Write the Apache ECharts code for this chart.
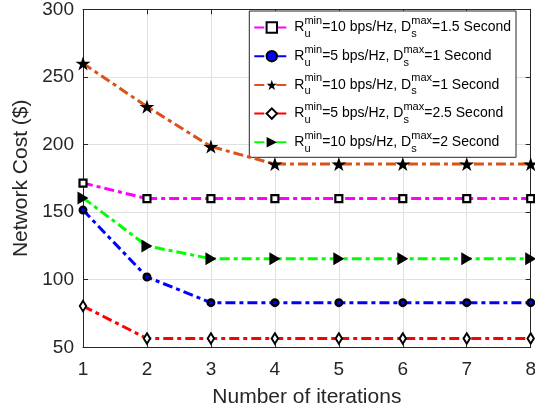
<!DOCTYPE html>
<html><head><meta charset="utf-8">
<script src="https://cdn.jsdelivr.net/npm/echarts@6/dist/echarts.min.js"></script>
<style>html,body{margin:0;padding:0;background:#fff}#c{width:535px;height:412px}</style>
</head><body><div id="c"></div>
<script>
const iterations = [1, 2, 3, 4, 5, 6, 7, 8];
const costMagenta = [171.5, 160, 160, 160, 160, 160, 160, 160];
const costBlue = [151.5, 102, 83, 83, 83, 83, 83, 83];
const costOrange = [260, 228, 198.5, 185.5, 185.5, 185.5, 185.5, 185.5];
const costRed = [80.5, 56.5, 56.5, 56.5, 56.5, 56.5, 56.5, 56.5];
const costGreen = [160.5, 125, 115.5, 115.5, 115.5, 115.5, 115.5, 115.5];
const rateValues = ['10', '5', '10', '5', '10'];
const delayValues = ['1.5', '1', '1', '2.5', '2'];
const xTicks = [1, 2, 3, 4, 5, 6, 7, 8];
const yTicks = [50, 100, 150, 200, 250, 300];

const FONT = "'Liberation Sans', Arial, Helvetica, sans-serif";
const TXT = '#262626';
const STAR = 'path://M50,2 L61.8,38 L99.5,38 L69,60 L80.5,96 L50,74 L19.5,96 L31,60 L0.5,38 L38.2,38 Z';
const TRI = 'path://M0,0 L100,50 L0,100 Z';

const names = rateValues.map((r, i) => 'R_u^min=' + r + ' bps/Hz, D_s^max=' + delayValues[i] + ' Second');
const seriesValues = [costMagenta, costBlue, costOrange, costRed, costGreen];
const lineColors = ['#FF00FF', '#0000FF', '#D95319', '#FF0000', '#00FF00'];
const symbols = ['rect', 'circle', STAR, 'diamond', TRI];
const symbolSizes = [7, 6.5, [15, 14], [6.5, 10.5], [11, 13]];
const fills = ['#ffffff', '#0000FF', '#000000', '#ffffff', '#000000'];
const borders = [2.2, 2.5, 0, 2, 0];

const series = seriesValues.map((vals, k) => ({
  name: names[k],
  type: 'line',
  data: iterations.map((x, i) => [x, vals[i]]),
  symbol: symbols[k],
  symbolSize: symbolSizes[k],
  showAllSymbol: true,
  lineStyle: { color: lineColors[k], width: 3, type: [10, 4, 4, 4] },
  itemStyle: { color: fills[k], borderColor: '#000', borderWidth: borders[k] },
  emphasis: { disabled: true },
  animation: false,
  z: 3 + k
}));

const chart = echarts.init(document.getElementById('c'), null, { renderer: 'canvas' });
chart.setOption({
  animation: false,
  backgroundColor: '#fff',
  grid: { left: 83, right: 4.3, top: 9.3, bottom: 64.7, containLabel: false, outerBoundsMode: 'none' },
  legend: {
    orient: 'vertical',
    left: 249.3, top: 11,
    data: names,
    backgroundColor: '#fff',
    borderColor: TXT, borderWidth: 1, borderRadius: 0,
    padding: [4.5, 5, 3, 4],
    itemWidth: 35, itemHeight: 13, itemGap: 4.7,
    textStyle: {
      fontFamily: FONT, fontSize: 14, color: '#000',
      rich: {
        m: { fontFamily: FONT, fontSize: 14, lineHeight: 24, color: '#000' },
        sp: { fontFamily: FONT, fontSize: 11, lineHeight: 13, verticalAlign: 'top', color: '#000' },
        sb: { fontFamily: FONT, fontSize: 11, lineHeight: 6, verticalAlign: 'bottom', width: 0, color: '#000' }
      }
    },
    formatter: function (name) {
      const i = names.indexOf(name);
      return '{m|R}{sb|u}{sp|min}{m|=' + rateValues[i] + ' bps/Hz, D}{sb|s}{sp|max}{m|=' + delayValues[i] + ' Second}';
    }
  },
  xAxis: [{
    type: 'value', min: xTicks[0], max: xTicks[xTicks.length - 1], interval: 1,
    name: 'Number of iterations', nameLocation: 'middle', nameGap: 39,
    nameTextStyle: { fontFamily: FONT, fontSize: 21, color: TXT },
    axisLine: { show: true, onZero: false, lineStyle: { color: TXT, width: 1 } },
    axisTick: { show: true, inside: true, length: 5, lineStyle: { color: TXT } },
    axisLabel: { fontFamily: FONT, fontSize: 19, color: TXT, margin: 13, showMinLabel: true, showMaxLabel: true },
    splitLine: { show: true, lineStyle: { color: '#e0e0e0', width: 1 } }
  }, {
    type: 'value', position: 'top', min: xTicks[0], max: xTicks[xTicks.length - 1], interval: 1,
    axisLine: { show: true, onZero: false, lineStyle: { color: TXT, width: 1 } },
    axisTick: { show: true, inside: true, length: 5, lineStyle: { color: TXT } },
    axisLabel: { show: false }, splitLine: { show: false }
  }],
  yAxis: [{
    type: 'value', min: yTicks[0], max: yTicks[yTicks.length - 1], interval: 50,
    name: 'Network Cost ($)', nameLocation: 'middle', nameGap: 47.5,
    nameTextStyle: { fontFamily: FONT, fontSize: 21, color: TXT },
    axisLine: { show: true, onZero: false, lineStyle: { color: TXT, width: 1 } },
    axisTick: { show: true, inside: true, length: 5, lineStyle: { color: TXT } },
    axisLabel: { fontFamily: FONT, fontSize: 19, color: TXT, margin: 9, showMinLabel: true, showMaxLabel: true },
    splitLine: { show: true, lineStyle: { color: '#e0e0e0', width: 1 } }
  }, {
    type: 'value', position: 'right', min: yTicks[0], max: yTicks[yTicks.length - 1], interval: 50,
    axisLine: { show: true, onZero: false, lineStyle: { color: TXT, width: 1 } },
    axisTick: { show: true, inside: true, length: 5, lineStyle: { color: TXT } },
    axisLabel: { show: false }, splitLine: { show: false }
  }],
  series: series
});
</script>
</body></html>
